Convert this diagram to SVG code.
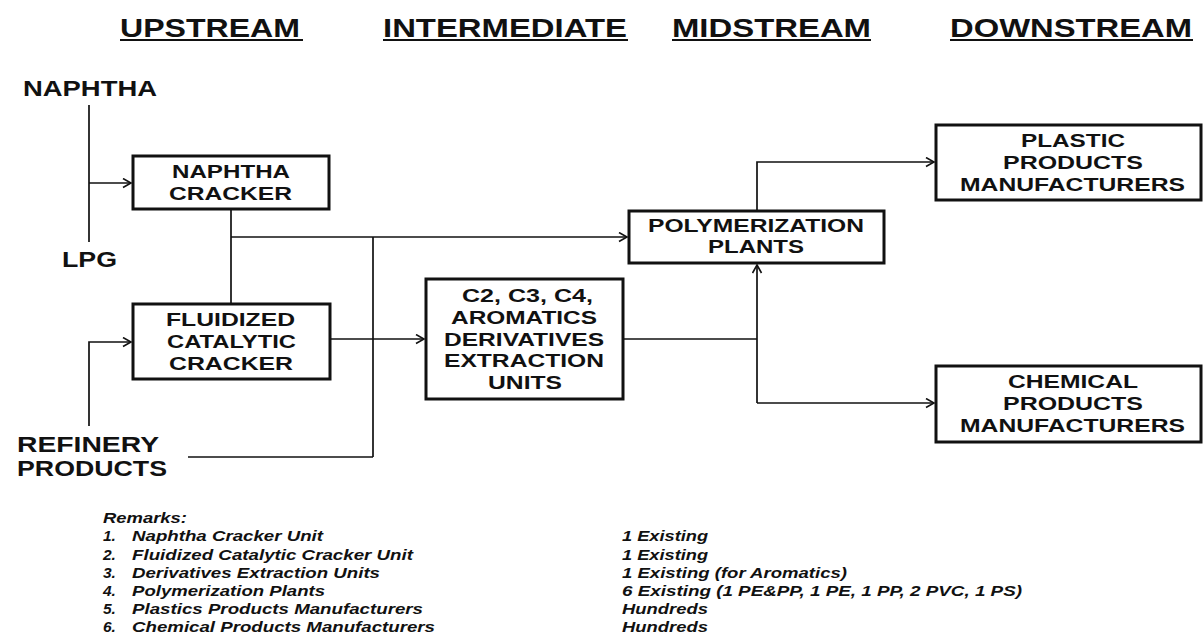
<svg xmlns="http://www.w3.org/2000/svg" width="1203" height="636" viewBox="0 0 1203 636">
<defs>
<marker id="arr" markerUnits="userSpaceOnUse" markerWidth="12" markerHeight="12" refX="9" refY="5" orient="auto">
<path d="M1,0.5 L9,5 L1,9.5" fill="none" stroke="#111" stroke-width="1.6"/>
</marker>
<style>
.hdr{font-family:"Liberation Sans",Arial,sans-serif;font-weight:bold;font-size:25.5px;fill:#111}
.lbl{font-family:"Liberation Sans",Arial,sans-serif;font-weight:bold;font-size:22px;fill:#111}
.box{fill:#fff;stroke:#111;stroke-width:3}
.bt{font-family:"Liberation Sans",Arial,sans-serif;font-weight:bold;font-size:17.5px;fill:#111}
.rm{font-family:"Liberation Sans",Arial,sans-serif;font-weight:bold;font-style:italic;font-size:15.5px;fill:#111}
.ln{fill:none;stroke:#111;stroke-width:1.7}
.ul{stroke:#111;stroke-width:2}
</style>
</defs>
<rect width="1203" height="636" fill="#fff"/>

<g id="headers">
<text class="hdr" x="120" y="37" textLength="180" lengthAdjust="spacingAndGlyphs">UPSTREAM</text>
<line class="ul" x1="120" y1="40" x2="303" y2="40"/>
<text class="hdr" x="383" y="37" textLength="244" lengthAdjust="spacingAndGlyphs">INTERMEDIATE</text>
<line class="ul" x1="383" y1="40" x2="628" y2="40"/>
<text class="hdr" x="672" y="37" textLength="199" lengthAdjust="spacingAndGlyphs">MIDSTREAM</text>
<line class="ul" x1="672" y1="40" x2="871" y2="40"/>
<text class="hdr" x="950" y="37" textLength="242" lengthAdjust="spacingAndGlyphs">DOWNSTREAM</text>
<line class="ul" x1="950" y1="40" x2="1193" y2="40"/>
</g>

<g id="connectors">
<line class="ln" x1="89" y1="105" x2="89" y2="242"/>
<line class="ln" x1="89" y1="183" x2="131" y2="183" marker-end="url(#arr)"/>
<line class="ln" x1="231" y1="209" x2="231" y2="304"/>
<line class="ln" x1="231" y1="237" x2="627" y2="237" marker-end="url(#arr)"/>
<line class="ln" x1="373" y1="237" x2="373" y2="457"/>
<line class="ln" x1="188" y1="457" x2="373" y2="457"/>
<polyline class="ln" points="89,426 89,342 131,342" marker-end="url(#arr)"/>
<line class="ln" x1="330" y1="339" x2="424" y2="339" marker-end="url(#arr)"/>
<line class="ln" x1="623" y1="339" x2="757" y2="339"/>
<line class="ln" x1="757" y1="403" x2="757" y2="265" marker-end="url(#arr)"/>
<line class="ln" x1="757" y1="403" x2="934" y2="403" marker-end="url(#arr)"/>
<polyline class="ln" points="757,211 757,162 934,162" marker-end="url(#arr)"/>
</g>

<g id="naphtha">
<text class="lbl" x="23" y="96" textLength="134" lengthAdjust="spacingAndGlyphs">NAPHTHA</text>
</g>
<g id="lpg">
<text class="lbl" x="62" y="267" textLength="55" lengthAdjust="spacingAndGlyphs">LPG</text>
</g>
<g id="refinery">
<text class="lbl" x="17" y="452" textLength="142" lengthAdjust="spacingAndGlyphs">REFINERY</text>
<text class="lbl" x="17" y="476" textLength="150" lengthAdjust="spacingAndGlyphs">PRODUCTS</text>
</g>

<g id="naphtha-cracker">
<rect class="box" x="133" y="156" width="196" height="53"/>
<text class="bt" x="172" y="178" textLength="118" lengthAdjust="spacingAndGlyphs">NAPHTHA</text>
<text class="bt" x="169" y="200" textLength="123" lengthAdjust="spacingAndGlyphs">CRACKER</text>
</g>

<g id="fcc">
<rect class="box" x="133" y="304" width="197" height="75"/>
<text class="bt" x="166" y="326" textLength="129" lengthAdjust="spacingAndGlyphs">FLUIDIZED</text>
<text class="bt" x="167" y="348" textLength="129" lengthAdjust="spacingAndGlyphs">CATALYTIC</text>
<text class="bt" x="169" y="370" textLength="124" lengthAdjust="spacingAndGlyphs">CRACKER</text>
</g>

<g id="extraction">
<rect class="box" x="426" y="279" width="197" height="120"/>
<text class="bt" x="462" y="302" textLength="131" lengthAdjust="spacingAndGlyphs">C2, C3, C4,</text>
<text class="bt" x="451" y="324" textLength="146" lengthAdjust="spacingAndGlyphs">AROMATICS</text>
<text class="bt" x="444" y="346" textLength="160" lengthAdjust="spacingAndGlyphs">DERIVATIVES</text>
<text class="bt" x="444" y="367" textLength="160" lengthAdjust="spacingAndGlyphs">EXTRACTION</text>
<text class="bt" x="488" y="389" textLength="74" lengthAdjust="spacingAndGlyphs">UNITS</text>
</g>

<g id="polymerization">
<rect class="box" x="629" y="211" width="255" height="52"/>
<text class="bt" x="648" y="232" textLength="216" lengthAdjust="spacingAndGlyphs">POLYMERIZATION</text>
<text class="bt" x="708" y="253" textLength="96" lengthAdjust="spacingAndGlyphs">PLANTS</text>
</g>

<g id="plastic">
<rect class="box" x="936" y="125" width="265" height="75"/>
<text class="bt" x="1021" y="147" textLength="104" lengthAdjust="spacingAndGlyphs">PLASTIC</text>
<text class="bt" x="1003" y="169" textLength="140" lengthAdjust="spacingAndGlyphs">PRODUCTS</text>
<text class="bt" x="960" y="191" textLength="225" lengthAdjust="spacingAndGlyphs">MANUFACTURERS</text>
</g>

<g id="chemical">
<rect class="box" x="936" y="366" width="265" height="76"/>
<text class="bt" x="1008" y="388" textLength="130" lengthAdjust="spacingAndGlyphs">CHEMICAL</text>
<text class="bt" x="1003" y="410" textLength="140" lengthAdjust="spacingAndGlyphs">PRODUCTS</text>
<text class="bt" x="960" y="432" textLength="225" lengthAdjust="spacingAndGlyphs">MANUFACTURERS</text>
</g>

<g id="remarks">
<text class="rm" x="103" y="523" textLength="84" lengthAdjust="spacingAndGlyphs">Remarks:</text>
<text class="rm" x="103" y="541">1.</text>
<text class="rm" x="132" y="541" textLength="191" lengthAdjust="spacingAndGlyphs">Naphtha Cracker Unit</text>
<text class="rm" x="622" y="541" textLength="86" lengthAdjust="spacingAndGlyphs">1 Existing</text>
<text class="rm" x="103" y="560">2.</text>
<text class="rm" x="132" y="560" textLength="281" lengthAdjust="spacingAndGlyphs">Fluidized  Catalytic  Cracker Unit</text>
<text class="rm" x="622" y="560" textLength="86" lengthAdjust="spacingAndGlyphs">1 Existing</text>
<text class="rm" x="103" y="578">3.</text>
<text class="rm" x="132" y="578" textLength="248" lengthAdjust="spacingAndGlyphs">Derivatives  Extraction Units</text>
<text class="rm" x="622" y="578" textLength="225" lengthAdjust="spacingAndGlyphs">1 Existing (for Aromatics)</text>
<text class="rm" x="103" y="596">4.</text>
<text class="rm" x="132" y="596" textLength="193" lengthAdjust="spacingAndGlyphs">Polymerization  Plants</text>
<text class="rm" x="622" y="596" textLength="400" lengthAdjust="spacingAndGlyphs">6 Existing (1 PE&amp;PP, 1 PE, 1 PP, 2 PVC, 1 PS)</text>
<text class="rm" x="103" y="614">5.</text>
<text class="rm" x="132" y="614" textLength="291" lengthAdjust="spacingAndGlyphs">Plastics Products Manufacturers</text>
<text class="rm" x="622" y="614" textLength="86" lengthAdjust="spacingAndGlyphs">Hundreds</text>
<text class="rm" x="103" y="632">6.</text>
<text class="rm" x="132" y="632" textLength="303" lengthAdjust="spacingAndGlyphs">Chemical Products Manufacturers</text>
<text class="rm" x="622" y="632" textLength="86" lengthAdjust="spacingAndGlyphs">Hundreds</text>
</g>
</svg>
